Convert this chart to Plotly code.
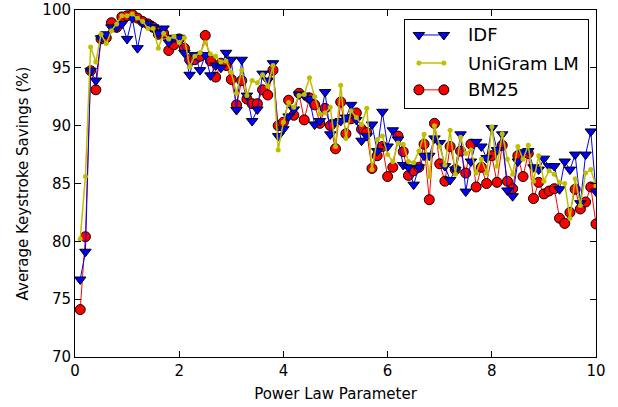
import plotly.graph_objects as go

x_vals = [round(0.1 * i, 1) for i in range(1, 101)]

idf = [76.7, 79.1, 94.75, 93.9, 97.55, 97.9, 98.5, 98.5, 98.8, 97.5,
       99.3, 96.7, 98.9, 98.8, 98.5, 98.0, 98.4, 97.2, 97.6, 97.6,
       96.3, 94.4, 96.1, 94.8, 96.1, 94.35, 95.2, 95.0, 96.3, 95.7,
       91.35, 95.7, 92.6, 90.4, 91.4, 94.5, 93.9, 95.4, 89.1, 89.7,
       90.8, 91.4, 92.7, 92.6, 92.3, 90.1, 90.4, 92.9, 89.25, 90.3,
       90.4, 90.7, 91.8, 90.5, 88.7, 89.1, 90.1, 87.8, 91.2, 88.2,
       89.6, 88.8, 86.6, 86.4, 84.9, 86.4, 87.4, 87.4, 88.9, 88.5,
       86.5, 85.3, 86.2, 89.25, 84.3, 86.9, 88.6, 88.2, 87.2, 89.8,
       87.9, 89.25, 84.4, 83.9, 86.9, 87.7, 87.8, 86.4, 86.2, 87.15,
       86.5, 86.5, 84.5, 86.9, 86.2, 87.5, 83.3, 87.5, 89.5, 84.3]

unigram = [80.2, 85.6, 96.8, 95.5, 97.9, 97.1, 98.2, 98.8, 99.5, 99.5,
           99.65, 99.3, 99.0, 98.4, 98.4, 96.7, 98.0, 97.5, 97.7, 97.2,
           97.6, 95.1, 96.0, 96.3, 97.2, 96.2, 96.0, 95.5, 95.6, 94.6,
           92.8, 94.8, 92.6, 93.9, 93.7, 94.4, 93.4, 95.2, 87.9, 90.3,
           92.0, 91.6, 92.6, 92.7, 94.15, 92.5, 91.0, 91.1, 91.6, 88.2,
           93.5, 88.9, 91.3, 90.7, 90.1, 91.5, 86.2, 88.8, 89.1, 87.5,
           86.9, 88.5, 88.4, 86.9, 86.8, 87.8, 89.25, 85.6, 90.0, 88.2,
           86.6, 89.6, 85.8, 89.0, 87.6, 87.9, 85.9, 87.1, 85.9, 89.9,
           86.5, 89.3, 87.1, 85.8, 88.2, 87.1, 88.3, 85.2, 87.4, 85.2,
           86.1, 85.8, 85.1, 85.0, 82.0, 85.4, 83.1, 85.9, 86.2, 84.8]

bm25 = [74.1, 80.4, 94.75, 93.1, 97.5, 97.6, 98.9, 98.5, 99.4, 99.5,
        99.6, 99.3, 99.0, 98.8, 98.5, 97.9, 98.0, 96.5, 97.0, 97.5,
        96.7, 95.7, 95.7, 96.0, 97.8, 95.6, 94.2, 95.4, 95.2, 94.0,
        91.8, 93.9, 92.3, 91.9, 91.9, 93.1, 92.65, 94.8, 90.0, 90.3,
        92.2, 90.9, 92.8, 90.5, 92.4, 91.8, 90.2, 91.5, 90.0, 88.0,
        92.05, 89.3, 90.6, 91.1, 89.7, 89.4, 86.3, 87.4, 88.2, 85.6,
        86.4, 89.1, 87.75, 85.7, 86.1, 86.4, 88.4, 83.6, 90.2, 86.7,
        85.2, 88.2, 86.2, 87.8, 85.9, 88.4, 84.7, 86.4, 85.0, 87.4,
        85.1, 88.3, 85.2, 84.55, 87.4, 85.6, 87.6, 83.7, 85.1, 84.1,
        84.35, 84.55, 82.0, 81.55, 82.5, 84.5, 82.8, 83.4, 84.7, 81.5]

series_names = ["IDF", "UniGram LM", "BM25"]
x_ticks = [0, 2, 4, 6, 8, 10]
y_ticks = [70, 75, 80, 85, 90, 95, 100]

FONT = "DejaVu Sans"

styles = {
    "IDF": dict(line=dict(color="#0000ff", width=1),
                marker=dict(symbol="triangle-down", size=10, color="#0000ff",
                            line=dict(color="black", width=1))),
    "UniGram LM": dict(line=dict(color="#bfbf00", width=1.5),
                       marker=dict(symbol="circle", size=5, color="#bfbf00",
                                   line=dict(color="#bfbf00", width=0))),
    "BM25": dict(line=dict(color="#ff0000", width=1),
                 marker=dict(symbol="circle", size=10, color="#ff0000",
                             line=dict(color="black", width=1))),
}
data = {"IDF": idf, "UniGram LM": unigram, "BM25": bm25}

fig = go.Figure()
# drawing order: BM25 below, IDF, then UniGram LM on top
for name in ["BM25", "IDF", "UniGram LM"]:
    fig.add_trace(go.Scatter(x=x_vals, y=data[name], name=name,
                             mode="lines+markers", showlegend=False,
                             **styles[name]))

# matplotlib-style legend drawn in an inset subplot
leg_rows = {"IDF": 0.83, "UniGram LM": 0.51, "BM25": 0.205}
for name in series_names:
    fig.add_trace(go.Scatter(x=[0.077, 0.213], y=[leg_rows[name]] * 2,
                             mode="lines+markers", showlegend=False,
                             hoverinfo="skip", xaxis="x2", yaxis="y2",
                             **styles[name]))
    fig.add_annotation(x=0.333, y=leg_rows[name], xref="x2", yref="y2",
                       text=name, showarrow=False, xanchor="left",
                       yanchor="middle",
                       font=dict(family=FONT, size=18, color="black"))

axis_common = dict(
    showgrid=False, zeroline=False, showline=True, linecolor="black",
    linewidth=1, mirror="ticks", ticks="inside", ticklen=6, tickwidth=1,
    tickcolor="black", automargin=False,
    tickfont=dict(family=FONT, size=15, color="black"),
)

fig.update_layout(
    xaxis=dict(range=[0, 10], tickvals=x_ticks,
               title=dict(text="Power Law Parameter",
                          font=dict(family=FONT, size=15, color="black"),
                          standoff=9),
               **axis_common),
    yaxis=dict(range=[70, 100], tickvals=y_ticks,
               title=dict(text="Average Keystroke Savings (%)",
                          font=dict(family=FONT, size=15, color="black"),
                          standoff=10),
               **axis_common),
    xaxis2=dict(domain=[0.633, 0.985], anchor="y2", range=[0, 1],
                showgrid=False, zeroline=False, showticklabels=False,
                ticks="", showline=True, mirror=True, linecolor="black",
                linewidth=1, fixedrange=True),
    yaxis2=dict(domain=[0.718, 0.971], anchor="x2", range=[0, 1],
                showgrid=False, zeroline=False, showticklabels=False,
                ticks="", showline=True, mirror=True, linecolor="black",
                linewidth=1, fixedrange=True),
    width=618, height=407,
    margin=dict(l=75, r=22, t=10, b=50),
    plot_bgcolor="white", paper_bgcolor="white",
    font=dict(family=FONT, color="black"),
    showlegend=False,
)

fig.write_html("out.html", config={"displayModeBar": False},
               post_script="document.body.style.margin='0px';")
